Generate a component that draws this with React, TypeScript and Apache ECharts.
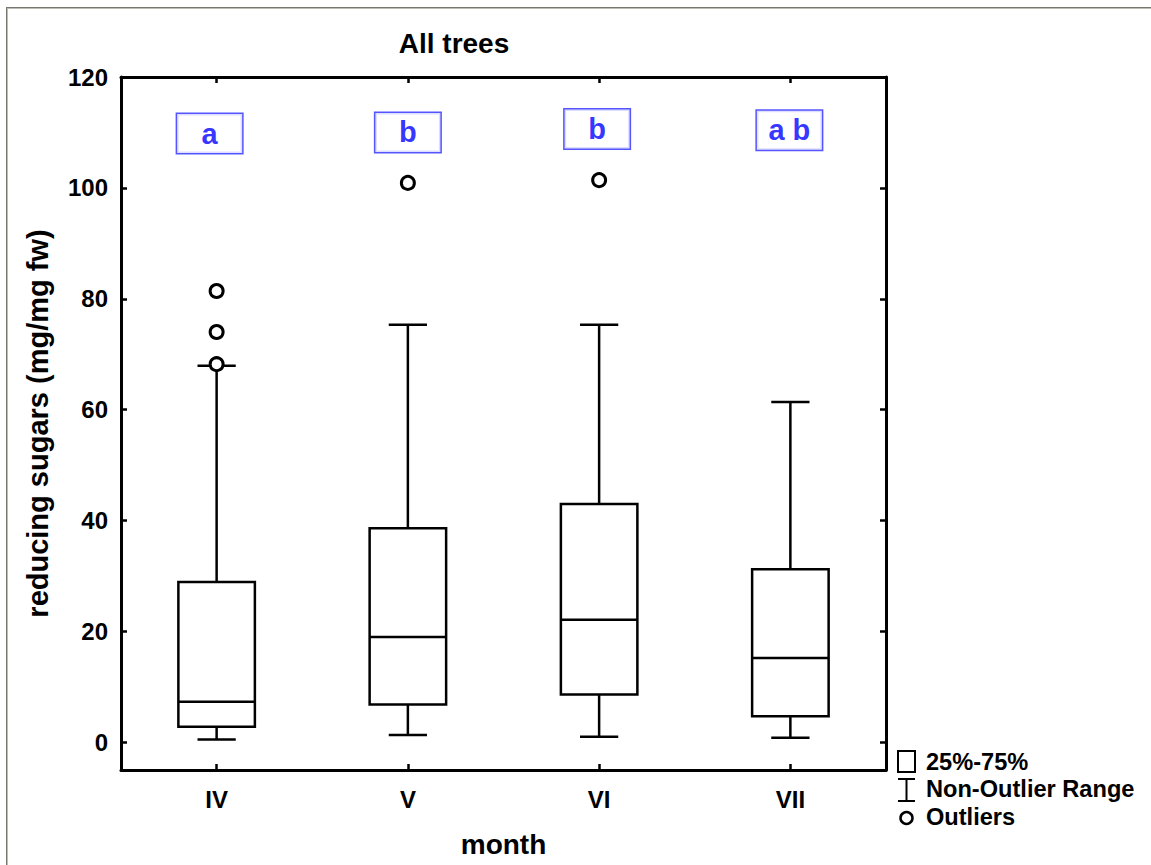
import React, { useEffect, useRef } from "react";
import * as echarts from "echarts";

const categories = ["IV", "V", "VI", "VII"];
const whiskerLow = [0.5, 1.3, 1.0, 0.8];
const quartile1 = [2.8, 6.8, 8.6, 4.7];
const medians = [7.3, 19.0, 22.1, 15.2];
const quartile3 = [28.9, 38.6, 43.0, 31.2];
const whiskerHigh = [67.9, 75.3, 75.3, 61.4];
const outlierCategory = [0, 0, 0, 1, 2];
const outlierValues = [68.2, 74.0, 81.4, 100.9, 101.4];
const groupLetters = ["a", "b", "b", "a b"];
const letterLevel = [109.8, 110.0, 110.6, 110.4];
const yTicks = [0, 20, 40, 60, 80, 100, 120];
const letterShiftX = [-7, 0, -2, -1];

const FONT = '"Liberation Sans", Arial, sans-serif';

export default function App() {
  const ref = useRef<HTMLDivElement>(null);

  useEffect(() => {
    if (!ref.current) return;
    const chart = echarts.init(ref.current, null, { renderer: "svg" });

    const boxData = categories.map((_, i) => [
      i,
      whiskerLow[i],
      quartile1[i],
      medians[i],
      quartile3[i],
      whiskerHigh[i],
    ]);
    const outlierData = outlierValues.map((v, i) => [outlierCategory[i], v]);
    const letterData = groupLetters.map((t, i) => ({
      value: [i, letterLevel[i]],
      name: t,
      label: { offset: [letterShiftX[i], 0] },
    }));

    const lineStyle = { stroke: "#000", lineWidth: 2.5, fill: "none" };
    const axisLineStyle = { color: "#000", width: 3 };
    const tickStyle = { color: "#000", width: 2.5 };

    const option: any = {
      animation: false,
      backgroundColor: "#fff",
      grid: { left: 121, right: 265, top: 77, bottom: 95, containLabel: false, outerBoundsMode: "none" },
      xAxis: [
        {
          type: "category",
          data: categories,
          position: "bottom",
          boundaryGap: true,
          axisLine: { show: true, onZero: false, lineStyle: axisLineStyle },
          axisTick: { show: true, inside: true, length: 6, alignWithLabel: true, lineStyle: tickStyle },
          axisLabel: { color: "#000", fontFamily: FONT, fontSize: 24, fontWeight: "bold", margin: 17 },
          splitLine: { show: false },
          name: "month",
          nameLocation: "middle",
          nameGap: 60,
          nameTextStyle: { color: "#000", fontFamily: FONT, fontSize: 28, fontWeight: "bold" },
        },
        {
          type: "category",
          data: categories,
          position: "top",
          boundaryGap: true,
          axisLine: { show: true, onZero: false, lineStyle: axisLineStyle },
          axisTick: { show: true, inside: true, length: 6, alignWithLabel: true, lineStyle: tickStyle },
          axisLabel: { show: false },
          splitLine: { show: false },
        },
      ],
      yAxis: [
        {
          type: "value",
          min: -5,
          max: 120,
          position: "left",
          axisLine: { show: true, onZero: false, lineStyle: axisLineStyle },
          axisTick: { show: true, inside: true, length: 6, customValues: yTicks, lineStyle: tickStyle },
          axisLabel: { color: "#000", fontFamily: FONT, fontSize: 24, fontWeight: "bold", margin: 13, customValues: yTicks },
          splitLine: { show: false },
          name: "reducing sugars (mg/mg fw)",
          nameLocation: "middle",
          nameGap: 69,
          nameTextStyle: { color: "#000", fontFamily: FONT, fontSize: 29, fontWeight: "bold" },
        },
        {
          type: "value",
          min: -5,
          max: 120,
          position: "right",
          axisLine: { show: true, onZero: false, lineStyle: axisLineStyle },
          axisTick: { show: true, inside: true, length: 6, customValues: yTicks, lineStyle: tickStyle },
          axisLabel: { show: false },
          splitLine: { show: false },
        },
      ],
      series: [
        {
          type: "custom",
          xAxisIndex: 0,
          yAxisIndex: 0,
          data: boxData,
          z: 2,
          renderItem: (params: any, api: any) => {
            const idx = api.value(0);
            const lo = api.coord([idx, api.value(1)]);
            const q1 = api.coord([idx, api.value(2)]);
            const md = api.coord([idx, api.value(3)]);
            const q3 = api.coord([idx, api.value(4)]);
            const hi = api.coord([idx, api.value(5)]);
            const band = api.size([1, 0])[0];
            const boxW = band * 0.4;
            const capW = band * 0.2;
            const x = lo[0];
            return {
              type: "group",
              children: [
                { type: "line", shape: { x1: x, y1: q3[1], x2: x, y2: hi[1] }, style: lineStyle },
                { type: "line", shape: { x1: x, y1: q1[1], x2: x, y2: lo[1] }, style: lineStyle },
                { type: "line", shape: { x1: x - capW / 2, y1: hi[1], x2: x + capW / 2, y2: hi[1] }, style: lineStyle },
                { type: "line", shape: { x1: x - capW / 2, y1: lo[1], x2: x + capW / 2, y2: lo[1] }, style: lineStyle },
                {
                  type: "rect",
                  shape: { x: x - boxW / 2, y: q3[1], width: boxW, height: q1[1] - q3[1] },
                  style: { stroke: "#000", lineWidth: 2.5, fill: "#fff" },
                },
                { type: "line", shape: { x1: x - boxW / 2, y1: md[1], x2: x + boxW / 2, y2: md[1] }, style: lineStyle },
              ],
            };
          },
        },
        {
          type: "scatter",
          xAxisIndex: 0,
          yAxisIndex: 0,
          data: outlierData,
          symbol: "circle",
          symbolSize: 13,
          z: 5,
          itemStyle: { color: "#fff", borderColor: "#000", borderWidth: 3, opacity: 1 },
        },
        {
          type: "scatter",
          xAxisIndex: 0,
          yAxisIndex: 0,
          data: letterData,
          symbolSize: 1,
          z: 6,
          itemStyle: { color: "transparent" },
          label: {
            show: true,
            position: "inside",
            formatter: (p: any) => p.name,
            color: "#0000ff",
            fontFamily: FONT,
            fontSize: 29,
            fontWeight: "bold",
            width: 65,
            height: 39,
            lineHeight: 39,
            align: "center",
            verticalAlign: "middle",
            backgroundColor: "#fff",
            borderColor: "#2a2aff",
            borderWidth: 1.5,
          },
        },
      ],
      graphic: [
        { type: "line", shape: { x1: 6, y1: 7.5, x2: 1151, y2: 7.5 }, style: { stroke: "#77776f", lineWidth: 1 } },
        { type: "line", shape: { x1: 7, y1: 8.5, x2: 1151, y2: 8.5 }, style: { stroke: "#bdbdb5", lineWidth: 1 } },
        { type: "line", shape: { x1: 6.5, y1: 7, x2: 6.5, y2: 865 }, style: { stroke: "#77776f", lineWidth: 1 } },
        { type: "line", shape: { x1: 7.5, y1: 8, x2: 7.5, y2: 865 }, style: { stroke: "#bdbdb5", lineWidth: 1 } },
        {
          type: "text",
          x: 454,
          y: 43,
          style: { text: "All trees", fill: "#000", font: `bold 28px ${FONT}`, textAlign: "center", textVerticalAlign: "middle" },
        },
        { type: "rect", shape: { x: 898, y: 751, width: 17, height: 21 }, style: { stroke: "#000", lineWidth: 2, fill: "none" } },
        { type: "line", shape: { x1: 906.5, y1: 779, x2: 906.5, y2: 801 }, style: { stroke: "#000", lineWidth: 2 } },
        { type: "line", shape: { x1: 898, y1: 779, x2: 915, y2: 779 }, style: { stroke: "#000", lineWidth: 2 } },
        { type: "line", shape: { x1: 898, y1: 801, x2: 915, y2: 801 }, style: { stroke: "#000", lineWidth: 2 } },
        { type: "circle", shape: { cx: 906.5, cy: 818, r: 6 }, style: { stroke: "#000", lineWidth: 2.5, fill: "#fff" } },
        {
          type: "text",
          x: 926,
          y: 762,
          style: { text: "25%-75%", fill: "#000", font: `bold 23.6px ${FONT}`, textVerticalAlign: "middle" },
        },
        {
          type: "text",
          x: 926,
          y: 789,
          style: { text: "Non-Outlier Range", fill: "#000", font: `bold 23.6px ${FONT}`, textVerticalAlign: "middle" },
        },
        {
          type: "text",
          x: 926,
          y: 817,
          style: { text: "Outliers", fill: "#000", font: `bold 23.6px ${FONT}`, textVerticalAlign: "middle" },
        },
      ],
    };

    chart.setOption(option);
    return () => chart.dispose();
  }, []);

  return (
    <div
      ref={ref}
      style={{ position: "absolute", left: 0, top: 0, width: 1151, height: 865, background: "#fff" }}
    />
  );
}
